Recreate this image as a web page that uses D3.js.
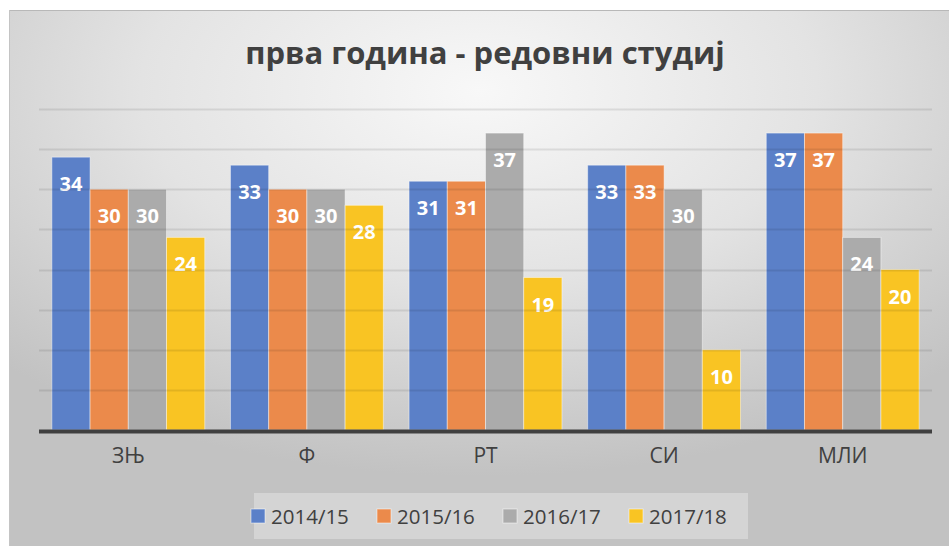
<!DOCTYPE html>
<html>
<head>
<meta charset="utf-8">
<script src="https://cdn.jsdelivr.net/npm/d3@7"></script>
<style>
  body { margin: 0; background: #fff; }
  text { font-family: "Open Sans", sans-serif; }
</style>
</head>
<body>
<div id="chart"></div>
<script>
const categories = ["ЗЊ", "Ф", "РТ", "СИ", "МЛИ"];
const seriesNames = ["2014/15", "2015/16", "2016/17", "2017/18"];
const s2014 = [34, 33, 31, 33, 37];
const s2015 = [30, 30, 31, 33, 37];
const s2016 = [30, 30, 37, 30, 24];
const s2017 = [24, 28, 19, 10, 20];
const colors = ["#5b80c8", "#eb8a4b", "#ababab", "#f9c423"];

const series = [s2014, s2015, s2016, s2017];
const data = categories.map((c, i) => ({cat: c, values: series.map((s, j) => ({name: seriesNames[j], v: s[i]}))}));

const width = 949, height = 546;
const margin = {top: 109, right: 17, bottom: 116, left: 39};
const innerWidth = width - margin.left - margin.right;
const innerHeight = 430 - margin.top;

const svg = d3.select("#chart").append("svg")
    .attr("width", width)
    .attr("height", height);

const defs = svg.append("defs");
const grad = defs.append("radialGradient")
    .attr("id", "bg")
    .attr("cx", "50%").attr("cy", "15%").attr("r", "72%");
grad.append("stop").attr("offset", "0%").attr("stop-color", "#f8f8f8");
grad.append("stop").attr("offset", "50%").attr("stop-color", "#e3e3e3");
grad.append("stop").attr("offset", "100%").attr("stop-color", "#c2c2c2");

svg.append("rect")
    .attr("x", 9).attr("y", 10)
    .attr("width", width - 9).attr("height", height - 10)
    .attr("fill", "url(#bg)");
svg.append("line")
    .attr("x1", 9).attr("x2", width).attr("y1", 10.5).attr("y2", 10.5)
    .attr("stroke", "#b8b8b8").attr("stroke-width", 1);
svg.append("line")
    .attr("x1", 9.5).attr("x2", 9.5).attr("y1", 10).attr("y2", height)
    .attr("stroke", "#c4c4c4").attr("stroke-width", 1);

svg.append("text")
    .text("прва година - редовни студиј")
    .attr("x", 485)
    .attr("y", 64)
    .attr("text-anchor", "middle")
    .attr("font-size", 31)
    .attr("font-weight", "bold")
    .attr("fill", "#404040");

const g = svg.append("g")
    .attr("transform", `translate(${margin.left}, ${margin.top})`);

const xScale = d3.scaleBand()
    .domain(categories)
    .range([0, innerWidth])
    .paddingInner(0.144)
    .paddingOuter(0.072);
const xSub = d3.scaleBand()
    .domain(seriesNames)
    .range([0, xScale.bandwidth()]);
const yScale = d3.scaleLinear()
    .domain([0, 40])
    .range([innerHeight, 0]);

const groups = g.selectAll(".grp")
    .data(data)
    .enter()
    .append("g")
    .attr("transform", d => `translate(${xScale(d.cat)}, 0)`);

groups.selectAll("rect")
    .data(d => d.values)
    .enter()
    .append("rect")
    .attr("x", d => xSub(d.name))
    .attr("y", d => yScale(d.v))
    .attr("width", xSub.bandwidth())
    .attr("height", d => innerHeight - yScale(d.v))
    .attr("fill", (d, i) => colors[i])
    .attr("stroke", "rgba(255,255,255,0.45)")
    .attr("stroke-width", 1);

// gridlines drawn over the bars, like the original
g.append("g")
    .selectAll("line")
    .data(d3.range(5, 41, 5))
    .enter()
    .append("line")
    .attr("x1", 0).attr("x2", innerWidth)
    .attr("y1", d => Math.round(yScale(d)) + 0.5)
    .attr("y2", d => Math.round(yScale(d)) + 0.5)
    .attr("stroke", "rgba(0,0,0,0.09)")
    .attr("stroke-width", 2);

groups.selectAll(".lbl")
    .data(d => d.values)
    .enter()
    .append("text")
    .text(d => d.v)
    .attr("x", d => xSub(d.name) + xSub.bandwidth() / 2)
    .attr("y", d => yScale(d.v) + 34)
    .attr("text-anchor", "middle")
    .attr("font-size", 20)
    .attr("font-weight", "bold")
    .attr("fill", "#fff");

const xAxis = g.append("g")
    .attr("transform", `translate(0, ${innerHeight})`)
    .call(d3.axisBottom(xScale).tickSize(0).tickPadding(18));
xAxis.select(".domain")
    .attr("stroke", "#404040")
    .attr("stroke-width", 4)
    .attr("d", `M0,1.5H${innerWidth}`);
xAxis.selectAll("text")
    .attr("font-size", 21)
    .attr("font-family", "Open Sans, sans-serif")
    .attr("fill", "#404040");

const legend = svg.append("g");
legend.append("rect")
    .attr("x", 254).attr("y", 493)
    .attr("width", 494).attr("height", 46)
    .attr("fill", "rgba(255,255,255,0.3)");
const items = legend.selectAll(".item")
    .data(seriesNames)
    .enter()
    .append("g")
    .attr("transform", (d, i) => `translate(${251 + i * 126}, 509)`);
items.append("rect")
    .attr("width", 14).attr("height", 14)
    .attr("fill", (d, i) => colors[i])
    .attr("stroke", "rgba(255,255,255,0.5)");
items.append("text")
    .text(d => d)
    .attr("x", 20)
    .attr("y", 14.5)
    .attr("font-size", 20.5)
    .attr("fill", "#404040");
</script>
</body>
</html>
